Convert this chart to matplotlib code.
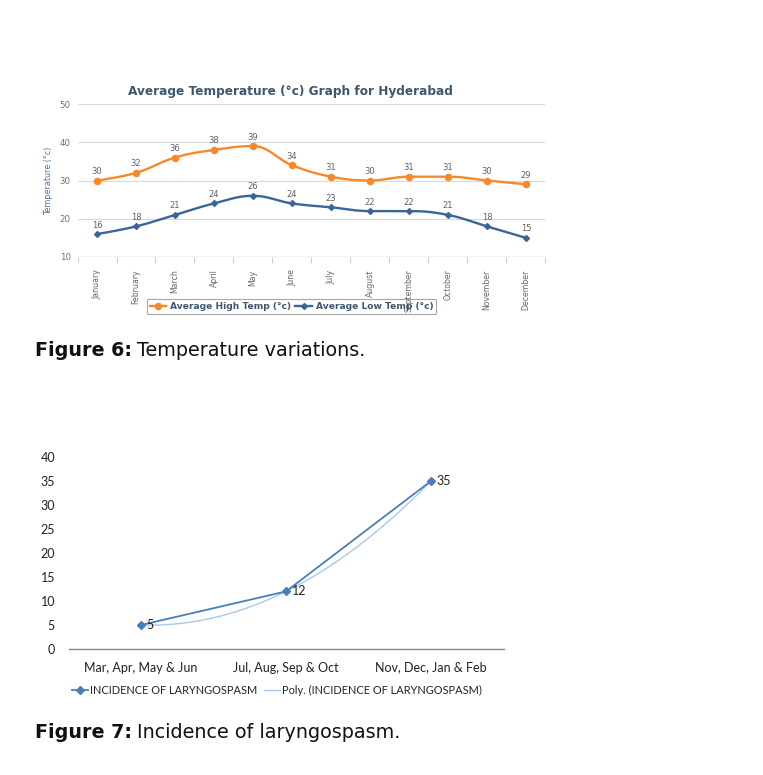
import numpy as np
import matplotlib
matplotlib.use("Agg")
import matplotlib.pyplot as plt
from matplotlib.lines import Line2D

# ---------------- data ----------------
months = ["January", "February", "March", "April", "May", "June", "July",
          "August", "September", "October", "November", "December"]
high_temp = [30, 32, 36, 38, 39, 34, 31, 30, 31, 31, 30, 29]
low_temp = [16, 18, 21, 24, 26, 24, 23, 22, 22, 21, 18, 15]
temp_yticks = [10, 20, 30, 40, 50]

seasons = ["Mar, Apr, May & Jun", "Jul, Aug, Sep & Oct", "Nov, Dec, Jan & Feb"]
incidence = [5, 12, 35]
inc_yticks = [0, 5, 10, 15, 20, 25, 30, 35, 40]

W, H = 763, 775
fig = plt.figure(figsize=(W / 100, H / 100), dpi=100)
fig.patch.set_facecolor("white")


def px_axes(left, top, right, bottom):
    return fig.add_axes([left / W, 1 - bottom / H, (right - left) / W, (bottom - top) / H])


def hc_spline(y, smoothing=1.5, n=30):
    """Highcharts-style spline through points (x = index)."""
    x = np.arange(len(y), dtype=float)
    y = np.asarray(y, dtype=float)
    N = len(y)
    lc = [(x[i], y[i]) for i in range(N)]
    rc = [(x[i], y[i]) for i in range(N)]
    d = smoothing + 1
    for i in range(1, N - 1):
        lx = (smoothing * x[i] + x[i - 1]) / d
        ly = (smoothing * y[i] + y[i - 1]) / d
        rx = (smoothing * x[i] + x[i + 1]) / d
        ry = (smoothing * y[i] + y[i + 1]) / d
        corr = ((ry - ly) * (rx - x[i])) / (rx - lx) + y[i] - ry
        ly += corr
        ry += corr
        if ly > y[i - 1] and ly > y[i]:
            ly = max(y[i - 1], y[i]); ry = 2 * y[i] - ly
        elif ly < y[i - 1] and ly < y[i]:
            ly = min(y[i - 1], y[i]); ry = 2 * y[i] - ly
        if ry > y[i + 1] and ry > y[i]:
            ry = max(y[i + 1], y[i]); ly = 2 * y[i] - ry
        elif ry < y[i + 1] and ry < y[i]:
            ry = min(y[i + 1], y[i]); ly = 2 * y[i] - ry
        lc[i] = (lx, ly)
        rc[i] = (rx, ry)
    xs, ys = [], []
    t = np.linspace(0, 1, n)
    for i in range(N - 1):
        p0 = np.array([x[i], y[i]]); p1 = np.array(rc[i])
        p2 = np.array(lc[i + 1]); p3 = np.array([x[i + 1], y[i + 1]])
        b = ((1 - t) ** 3)[:, None] * p0 + (3 * (1 - t) ** 2 * t)[:, None] * p1 \
            + (3 * (1 - t) * t ** 2)[:, None] * p2 + (t ** 3)[:, None] * p3
        xs.extend(b[:, 0]); ys.extend(b[:, 1])
    return np.array(xs), np.array(ys)


# ---------------- Figure 6: temperature ----------------
ax1 = px_axes(77.5, 104, 545.5, 257)
ax1.set_xlim(-0.5, len(months) - 0.5)
ax1.set_ylim(10, 50)
for s in ax1.spines.values():
    s.set_visible(False)
ax1.set_yticks(temp_yticks)
ax1.yaxis.grid(True, color="#d9d9d9", linewidth=0.8)
ax1.set_axisbelow(True)
ax1.axhline(10, color="#c0d0e0", linewidth=1.0, zorder=1)
ax1.tick_params(axis="y", length=0, labelsize=6.2, labelcolor="#707070", pad=5)
ax1.set_xticks(np.arange(len(months)))
ax1.set_xticklabels(months, rotation=90, fontsize=5.6, color="#666666",
                    family="Liberation Sans Narrow")
ax1.tick_params(axis="x", length=0, pad=9)
ax1.set_xticks(np.arange(len(months) + 1) - 0.5, minor=True)
ax1.tick_params(axis="x", which="minor", length=4, color="#c0d0e0", width=0.8)
ax1.set_ylabel("Temperature (°c)", fontsize=5.8, color="#4d759e", labelpad=5)

orange = "#f7892b"
blue = "#3a6597"
xh, yh = hc_spline(high_temp)
xl, yl = hc_spline(low_temp)
ax1.plot(xh, yh, color=orange, linewidth=1.7, zorder=3)
ax1.plot(xl, yl, color=blue, linewidth=1.7, zorder=3)
ax1.plot(range(len(months)), high_temp, "o", color=orange, markersize=4.4, zorder=4)
ax1.plot(range(len(months)), low_temp, "D", color=blue, markersize=3.0, zorder=4)
for i, v in enumerate(high_temp):
    ax1.annotate(str(v), (i, v), xytext=(0, 3.2), textcoords="offset points",
                 ha="center", va="bottom", fontsize=6, color="#606060")
for i, v in enumerate(low_temp):
    ax1.annotate(str(v), (i, v), xytext=(0, 3.2), textcoords="offset points",
                 ha="center", va="bottom", fontsize=6, color="#606060")

fig.text(290.5 / W, 1 - 91 / H, "Average Temperature (°c) Graph for Hyderabad",
         ha="center", va="center", fontsize=8.7, color="#3e576f", fontweight="bold")

h1 = Line2D([], [], color=orange, linewidth=1.7, marker="o", markersize=4.4)
h2 = Line2D([], [], color=blue, linewidth=1.7, marker="D", markersize=3.0)
leg1 = fig.legend([h1, h2], ["Average High Temp (°c)", "Average Low Temp (°c)"],
                  loc="center", bbox_to_anchor=(291.5 / W, 1 - 306.5 / H), ncol=2,
                  frameon=True, handlelength=1.8, columnspacing=0.5,
                  handletextpad=0.4, borderpad=0.35, fancybox=True,
                  prop={"size": 6.6, "weight": "bold"})
leg1.get_frame().set_edgecolor("#909090")
leg1.get_frame().set_facecolor("none")
leg1.get_frame().set_linewidth(0.8)
for t in leg1.get_texts():
    t.set_color("#3e576f")

# ---------------- Figure 7: laryngospasm ----------------
ax2 = px_axes(68.5, 457, 503.5, 649)
ax2.set_xlim(-0.5, len(seasons) - 0.5)
ax2.set_ylim(0, 40)
for k in ("top", "right", "left"):
    ax2.spines[k].set_visible(False)
ax2.spines["bottom"].set_color("#868686")
ax2.spines["bottom"].set_linewidth(1.0)
ax2.set_yticks(inc_yticks)
ax2.tick_params(axis="y", length=0, labelsize=9, pad=9.7, labelcolor="#222222")
ax2.set_xticks(range(len(seasons)))
ax2.set_xticklabels(seasons, fontsize=9, color="#222222")
ax2.tick_params(axis="x", length=0, pad=9)
for lab in ax2.get_xticklabels() + ax2.get_yticklabels():
    lab.set_family("Lato")

line_blue = "#4a7ebb"
poly_blue = "#a9c9ea"
xi = np.arange(len(seasons))
coef = np.polyfit(xi, incidence, 2)
xs = np.linspace(0, len(seasons) - 1, 200)
ax2.plot(xs, np.polyval(coef, xs), color=poly_blue, linewidth=1.0, zorder=2)
ax2.plot(xi, incidence, color=line_blue, linewidth=1.3, marker="D",
         markersize=4.5, zorder=3)
for i, v in enumerate(incidence):
    ax2.annotate(str(v), (i, v), xytext=(4, 0), textcoords="offset points",
                 ha="left", va="center", fontsize=9, color="#222222", family="Lato")

hh1 = Line2D([], [], color=line_blue, linewidth=1.3, marker="D", markersize=4.5)
hh2 = Line2D([], [], color=poly_blue, linewidth=1.0)
leg2 = fig.legend([hh1, hh2], ["INCIDENCE OF LARYNGOSPASM",
                               "Poly. (INCIDENCE OF LARYNGOSPASM)"],
                  loc="center", bbox_to_anchor=(277 / W, 1 - 690 / H), ncol=2,
                  frameon=False, handlelength=1.4, handletextpad=0.2,
                  columnspacing=0.65, prop={"family": "Lato", "size": 7.9})
for t in leg2.get_texts():
    t.set_color("#222222")

# ---------------- captions ----------------
fig.canvas.draw()
renderer = fig.canvas.get_renderer()


def caption(x, y, bold, rest):
    tb = fig.text(x / W, 1 - y / H, bold, fontsize=13.8, fontweight="bold",
                  ha="left", va="center", color="#111111", family="DejaVu Sans")
    bb = tb.get_window_extent(renderer)
    fig.text(bb.x1 / W + 5 / W, 1 - y / H, rest, fontsize=13.8, ha="left",
             va="center", color="#111111", family="DejaVu Sans")


caption(35, 350, "Figure 6:", "Temperature variations.")
caption(35, 733, "Figure 7:", "Incidence of laryngospasm.")

fig.savefig("out.png", dpi=100, facecolor="white")
